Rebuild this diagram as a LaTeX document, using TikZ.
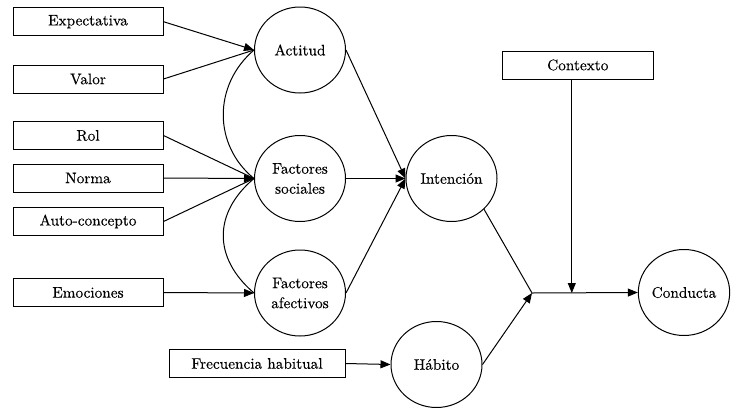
\documentclass[tikz,border=0pt]{standalone}
\usepackage{fontspec}
\setmainfont{lmroman10-regular}[Extension=.otf, FakeBold=0.25]
\usetikzlibrary{shapes.geometric,arrows.meta}
\newcommand{\fsz}{\fontsize{15.3}{20}\selectfont}
\tikzset{
  box/.style={draw, line width=1pt, minimum width=150pt, minimum height=28pt, inner sep=0pt, font=\fsz},
  oval/.style={draw, ellipse, line width=1pt, minimum width=91pt, minimum height=86pt, inner sep=0pt, align=center, font=\fsz},
  arr/.style={-{Triangle[length=10pt,width=8pt]}, line width=1pt},
  ln/.style={line width=1pt},
}
\begin{document}
\begin{tikzpicture}[x=1pt,y=-1pt]
\useasboundingbox (0,0) rectangle (738,407);
% boxes
\node[box] (exp) at (88,21.7) {Expectativa};
\node[box] (val) at (88,79) {Valor};
\node[box] (rol) at (88,135.5) {Rol};
\node[box] (nor) at (88,178) {Norma};
\node[box] (aut) at (88,221.5) {Auto-concepto};
\node[box] (emo) at (88,292.5) {Emociones};
\node[box, minimum width=176pt] (fre) at (257,363.5) {Frecuencia habitual};
\node[box, minimum width=151pt] (ctx) at (577.8,65) {Contexto};
% circles
\node[oval] (act) at (300,50) {Actitud};
\node[oval] (soc) at (300,178.5) {Factores\\sociales};
\node[oval] (aff) at (300,293) {Factores\\afectivos};
\node[oval] (int) at (451.5,178.5) {Intención};
\node[oval] (hab) at (436.5,364.5) {Hábito};
\node[oval] (con) at (684,292.5) {Conducta};
\coordinate (j) at (532,293);
\coordinate (ctxs) at ([xshift=-6pt]ctx.south);
\coordinate (k) at (ctxs |- j);
% arrows into first-level constructs
\draw[arr] (exp.east) -- (act.west);
\draw[ln] (val.east) -- (act.west);
\draw[ln] (rol.east) -- (soc.west);
\draw[arr] (nor.east) -- (soc.west);
\draw[ln] (aut.east) -- (soc.west);
\draw[arr] (emo.east) -- (aff.west);
% correlation curves
\draw[ln] (act.west) .. controls (213,85) and (213,145) .. (soc.west);
\draw[ln] (soc.west) .. controls (213,213) and (213,258) .. (aff.west);
% to intention
\draw[arr] (act.east) -- (int.west);
\draw[arr] (soc.east) -- (int.west);
\draw[arr] (aff.east) -- (int.west);
% habit
\draw[arr] (fre.east) -- (hab.west);
% behaviour
\draw[ln] (int.south east) -- (j);
\draw[arr] (hab.east) -- (j);
\draw[arr] (j) -- (con.west);
\draw[arr] (ctxs) -- (k);
\end{tikzpicture}
\end{document}
